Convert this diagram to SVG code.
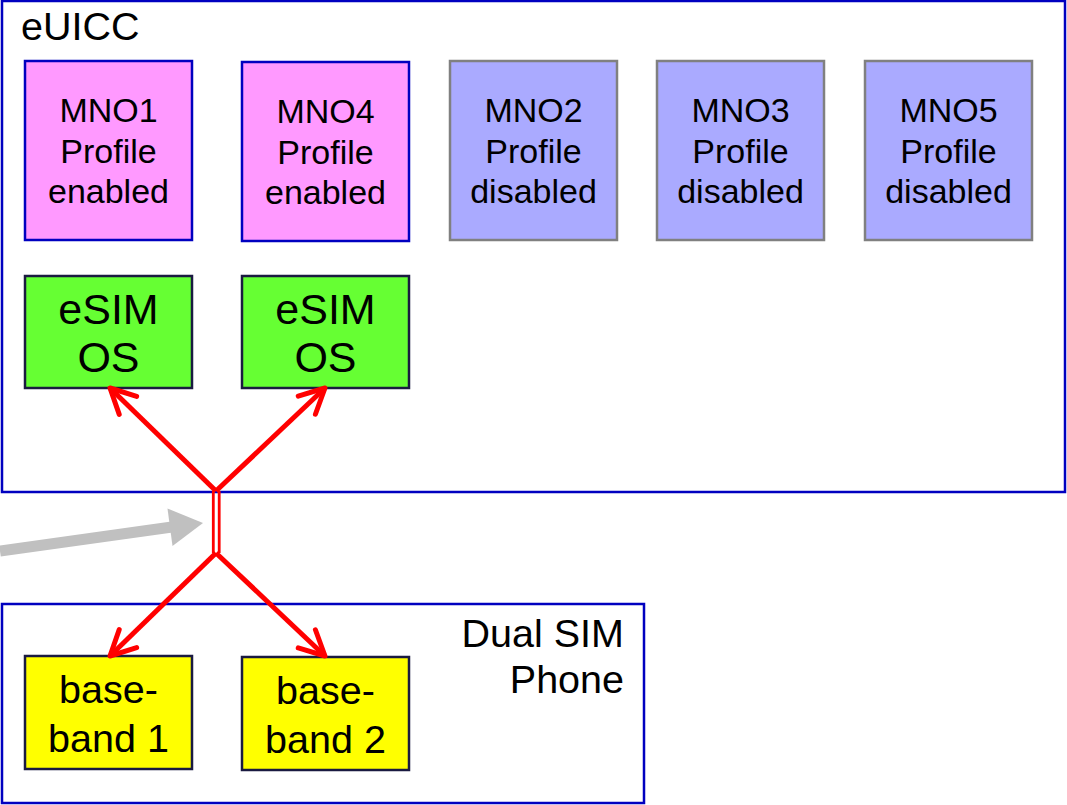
<svg xmlns="http://www.w3.org/2000/svg" width="1067" height="805" viewBox="0 0 1067 805">
  <style>
    text { font-family: "Liberation Sans", Arial, sans-serif; fill: #000; }
    .frame { fill: #fff; stroke: #0000c0; stroke-width: 2.5; }
    .enabled { fill: #ff99ff; stroke: #0000c0; stroke-width: 2.5; }
    .disabled { fill: #aaaaff; stroke: #808080; stroke-width: 2.5; }
    .os { fill: #66ff33; stroke: #1a1a40; stroke-width: 2.5; }
    .bb { fill: #ffff00; stroke: #1a1a40; stroke-width: 2.5; }
    .prof { font-size: 34px; text-anchor: middle; }
    .big { font-size: 43px; text-anchor: middle; }
    .bband { font-size: 39.5px; text-anchor: middle; }
    .label { font-size: 39.5px; }
    .link { stroke: #ff0000; stroke-width: 5; fill: none; }
    .bus { stroke: #ff0000; stroke-width: 2.8; fill: none; }
  </style>
  <defs>
    <marker id="open" markerUnits="userSpaceOnUse" viewBox="-32 -17 36 34" refX="0" refY="0" markerWidth="36" markerHeight="34" orient="auto">
      <path d="M -25,-12.5 L 0,0 L -25,12.5" stroke="#ff0000" stroke-width="5" fill="none" stroke-linecap="round" stroke-linejoin="round"/>
    </marker>
  </defs>

  <!-- eUICC container -->
  <g id="euicc">
    <rect class="frame" x="2" y="1" width="1063" height="491"/>
    <text class="label" x="21" y="40">eUICC</text>
  </g>

  <!-- Dual SIM phone container -->
  <g id="phone">
    <rect class="frame" x="2" y="604" width="642" height="199"/>
    <text class="label" x="624" y="647" text-anchor="end">Dual SIM</text>
    <text class="label" x="624" y="693" text-anchor="end">Phone</text>
  </g>

  <!-- profiles -->
  <g id="mno1">
    <rect class="enabled" x="25" y="61" width="167" height="179"/>
    <text class="prof" x="108.5" y="122">MNO1</text>
    <text class="prof" x="108.5" y="163">Profile</text>
    <text class="prof" x="108.5" y="203">enabled</text>
  </g>
  <g id="mno4">
    <rect class="enabled" x="242" y="62" width="167" height="179"/>
    <text class="prof" x="325.5" y="123">MNO4</text>
    <text class="prof" x="325.5" y="164">Profile</text>
    <text class="prof" x="325.5" y="204">enabled</text>
  </g>
  <g id="mno2">
    <rect class="disabled" x="450" y="61" width="167" height="179"/>
    <text class="prof" x="533.5" y="122">MNO2</text>
    <text class="prof" x="533.5" y="163">Profile</text>
    <text class="prof" x="533.5" y="203">disabled</text>
  </g>
  <g id="mno3">
    <rect class="disabled" x="657" y="61" width="167" height="179"/>
    <text class="prof" x="740.5" y="122">MNO3</text>
    <text class="prof" x="740.5" y="163">Profile</text>
    <text class="prof" x="740.5" y="203">disabled</text>
  </g>
  <g id="mno5">
    <rect class="disabled" x="865" y="61" width="167" height="179"/>
    <text class="prof" x="948.5" y="122">MNO5</text>
    <text class="prof" x="948.5" y="163">Profile</text>
    <text class="prof" x="948.5" y="203">disabled</text>
  </g>

  <!-- eSIM operating systems -->
  <g id="os1">
    <rect class="os" x="25" y="276" width="167" height="112"/>
    <text class="big" x="108.5" y="324">eSIM</text>
    <text class="big" x="108.5" y="372">OS</text>
  </g>
  <g id="os2">
    <rect class="os" x="242" y="276" width="167" height="112"/>
    <text class="big" x="325.5" y="324">eSIM</text>
    <text class="big" x="325.5" y="372">OS</text>
  </g>

  <!-- basebands -->
  <g id="bb1">
    <rect class="bb" x="25" y="656" width="167" height="113"/>
    <text class="bband" x="108.5" y="703">base-</text>
    <text class="bband" x="108.5" y="752">band 1</text>
  </g>
  <g id="bb2">
    <rect class="bb" x="242" y="657" width="167" height="113"/>
    <text class="bband" x="325.5" y="704">base-</text>
    <text class="bband" x="325.5" y="753">band 2</text>
  </g>

  <!-- connectors -->
  <g id="connectors">
    <path d="M 0,551 L 172,527" stroke="#c0c0c0" stroke-width="11" fill="none"/>
    <polygon points="203,523 172.5,546 167.5,508.6" fill="#c0c0c0"/>
    <line class="bus" x1="213.3" y1="491" x2="213.3" y2="553"/>
    <line class="bus" x1="219.2" y1="491" x2="219.2" y2="553"/>
    <line class="link" x1="216" y1="491" x2="110" y2="388" marker-end="url(#open)"/>
    <line class="link" x1="216" y1="491" x2="325" y2="388" marker-end="url(#open)"/>
    <line class="link" x1="216" y1="553" x2="110" y2="656" marker-end="url(#open)"/>
    <line class="link" x1="216" y1="553" x2="325" y2="656" marker-end="url(#open)"/>
  </g>
</svg>
